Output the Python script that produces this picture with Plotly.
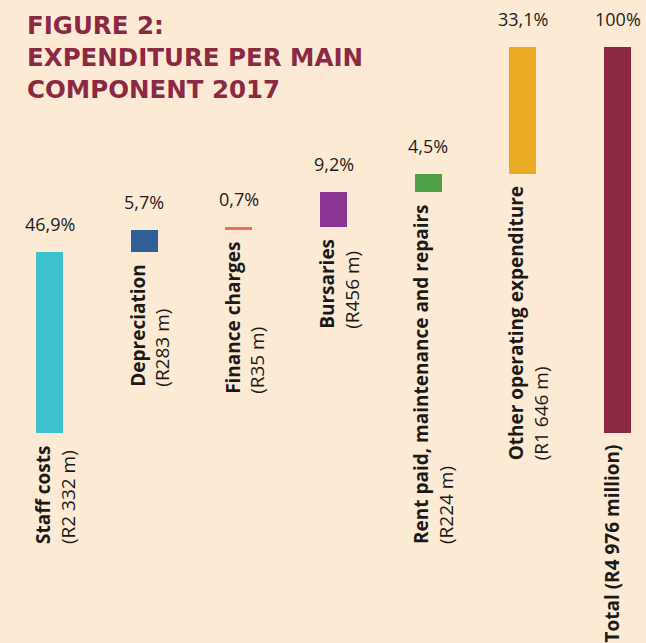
import numpy as np
import plotly.graph_objects as go

# Data
categories = ["Staff costs", "Depreciation", "Finance charges", "Bursaries",
              "Rent paid, maintenance and repairs", "Other operating expenditure",
              "Total"]
amounts = ["(R2 332 m)", "(R283 m)", "(R35 m)", "(R456 m)", "(R224 m)",
           "(R1 646 m)", "(R4 976 million)"]
shares = [46.9, 5.7, 0.7, 9.2, 4.5, 33.1]
total_share = 100

colors = ["#3EC1CF", "#2F5F96", "#F26B5B", "#8A3593", "#4E9F45", "#EBAA24", "#8B2942"]
bg = "#FDEAD5"
maroon = "#8B2942"
W, H = 646, 643

# waterfall bases from the component shares, total bar starts at zero
bases = list(np.concatenate([[0], np.cumsum(shares)[:-1]])) + [0]
heights = shares + [total_share]
xs = list(range(len(categories)))

def fmt(v):
    if v == 100:
        return "100%"
    return f"{v:.1f}".replace(".", ",") + "%"

fig = go.Figure()
fig.add_trace(go.Bar(
    x=xs, y=heights, base=bases,
    marker=dict(color=colors, line=dict(width=0)),
    width=0.285,
    hoverinfo="skip",
))

for i in xs:
    top = bases[i] + heights[i]
    fig.add_annotation(
        x=i, y=top, xref="x", yref="y",
        text=fmt(heights[i]), showarrow=False,
        yanchor="bottom", yshift=14,
        font=dict(family="Open Sans", size=18, color="#1e1e1e"),
    )
    if categories[i] == "Total":
        label = f"<b>{categories[i]} {amounts[i]}</b>"
        xs_shift = -5
    else:
        label = f"<b>{categories[i]}</b><br>{amounts[i]}"
        xs_shift = 6
    fig.add_annotation(
        x=i, y=bases[i], xref="x", yref="y",
        text=label, showarrow=False, textangle=-90,
        align="left", yanchor="top", xanchor="center",
        yshift=-10, xshift=xs_shift,
        font=dict(family="Open Sans", size=19, color="#1a1a1a"),
    )

# title block
fig.add_annotation(
    x=25 / W, y=(H - 9) / H, xref="paper", yref="paper",
    text="FIGURE 2:<br>EXPENDITURE PER MAIN<br>COMPONENT 2017",
    showarrow=False, xanchor="left", yanchor="top", align="left",
    font=dict(family="DejaVu Sans", size=24.5, color=maroon, weight="bold"),
)

fig.update_layout(
    width=W, height=H,
    margin=dict(l=0, r=0, t=0, b=0),
    paper_bgcolor=bg, plot_bgcolor=bg,
    showlegend=False,
    bargap=0,
    xaxis=dict(visible=False, range=[-0.523, 6.301], fixedrange=True),
    yaxis=dict(visible=False, range=[-54.4, 112.2], fixedrange=True),
)

fig.write_html("out.html", config={"displayModeBar": False},
               post_script="document.body.style.margin='0';")
